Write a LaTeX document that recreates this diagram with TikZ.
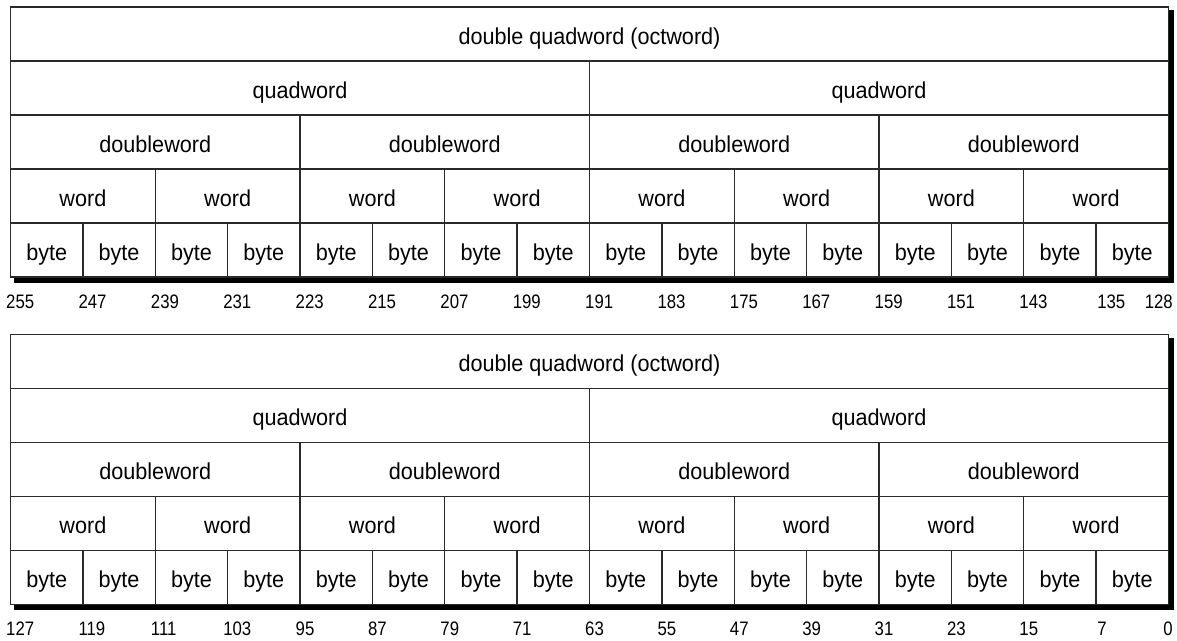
\documentclass[tikz,border=0pt]{standalone}
\usepackage{fontspec}
\setmainfont{Liberation Sans}
\newfontfamily\lblfont[FakeStretch=0.94]{Liberation Sans}
\newfontfamily\numfont[FakeStretch=0.86]{Liberation Sans}
\definecolor{linegray}{HTML}{2A2A2A}
\newcommand\regblock[3]{%
  \fill[black] (14,{#1+3}) rectangle (1173.5,{#1+275.5});
  \fill[white] (10.5,#1) rectangle (1168.5,{#1+270});
  \foreach \L/\n/\t in {0/1/{double quadword (octword)},1/2/quadword,2/4/doubleword,3/8/word,4/16/byte} {
    \pgfmathsetmacro\w{1158/\n}
    \foreach \i in {1,...,\n} {
      \draw[cell] ({10.5+(\i-1)*\w},{#1+54*\L}) rectangle ++(\w,54);
      \node[lbl] (#2-\L-\i) at ({10.5+(\i-0.5)*\w},{#1+54*\L+37}) {\t};
    }
  }
  \foreach \i in {0,...,15} {
    \pgfmathtruncatemacro\b{#3-8*\i}
    \pgfmathsetmacro\xx{10.5+\i*72.375-(\i==15 ? -1 : 4.5)}
    \node[num] (#2-n-\i) at (\xx,{#1+301}) {\b};
  }
  \pgfmathtruncatemacro\b{#3-127}
  \node[num, anchor=base east] (#2-n-16) at (1173,{#1+301}) {\b};
}
\begin{document}
\begin{tikzpicture}[x=1pt,y=-1pt,
  cell/.style={draw=linegray, line width=1.3pt},
  lbl/.style={font=\lblfont\fontsize{23}{26}\selectfont, inner sep=0pt, anchor=base},
  num/.style={font=\numfont\fontsize{19.5}{22}\selectfont, inner sep=0pt, anchor=base west}]
\useasboundingbox (0,0) rectangle (1177,640);
\regblock{7}{hi}{255}
\regblock{334.5}{lo}{127}
\end{tikzpicture}
\end{document}
